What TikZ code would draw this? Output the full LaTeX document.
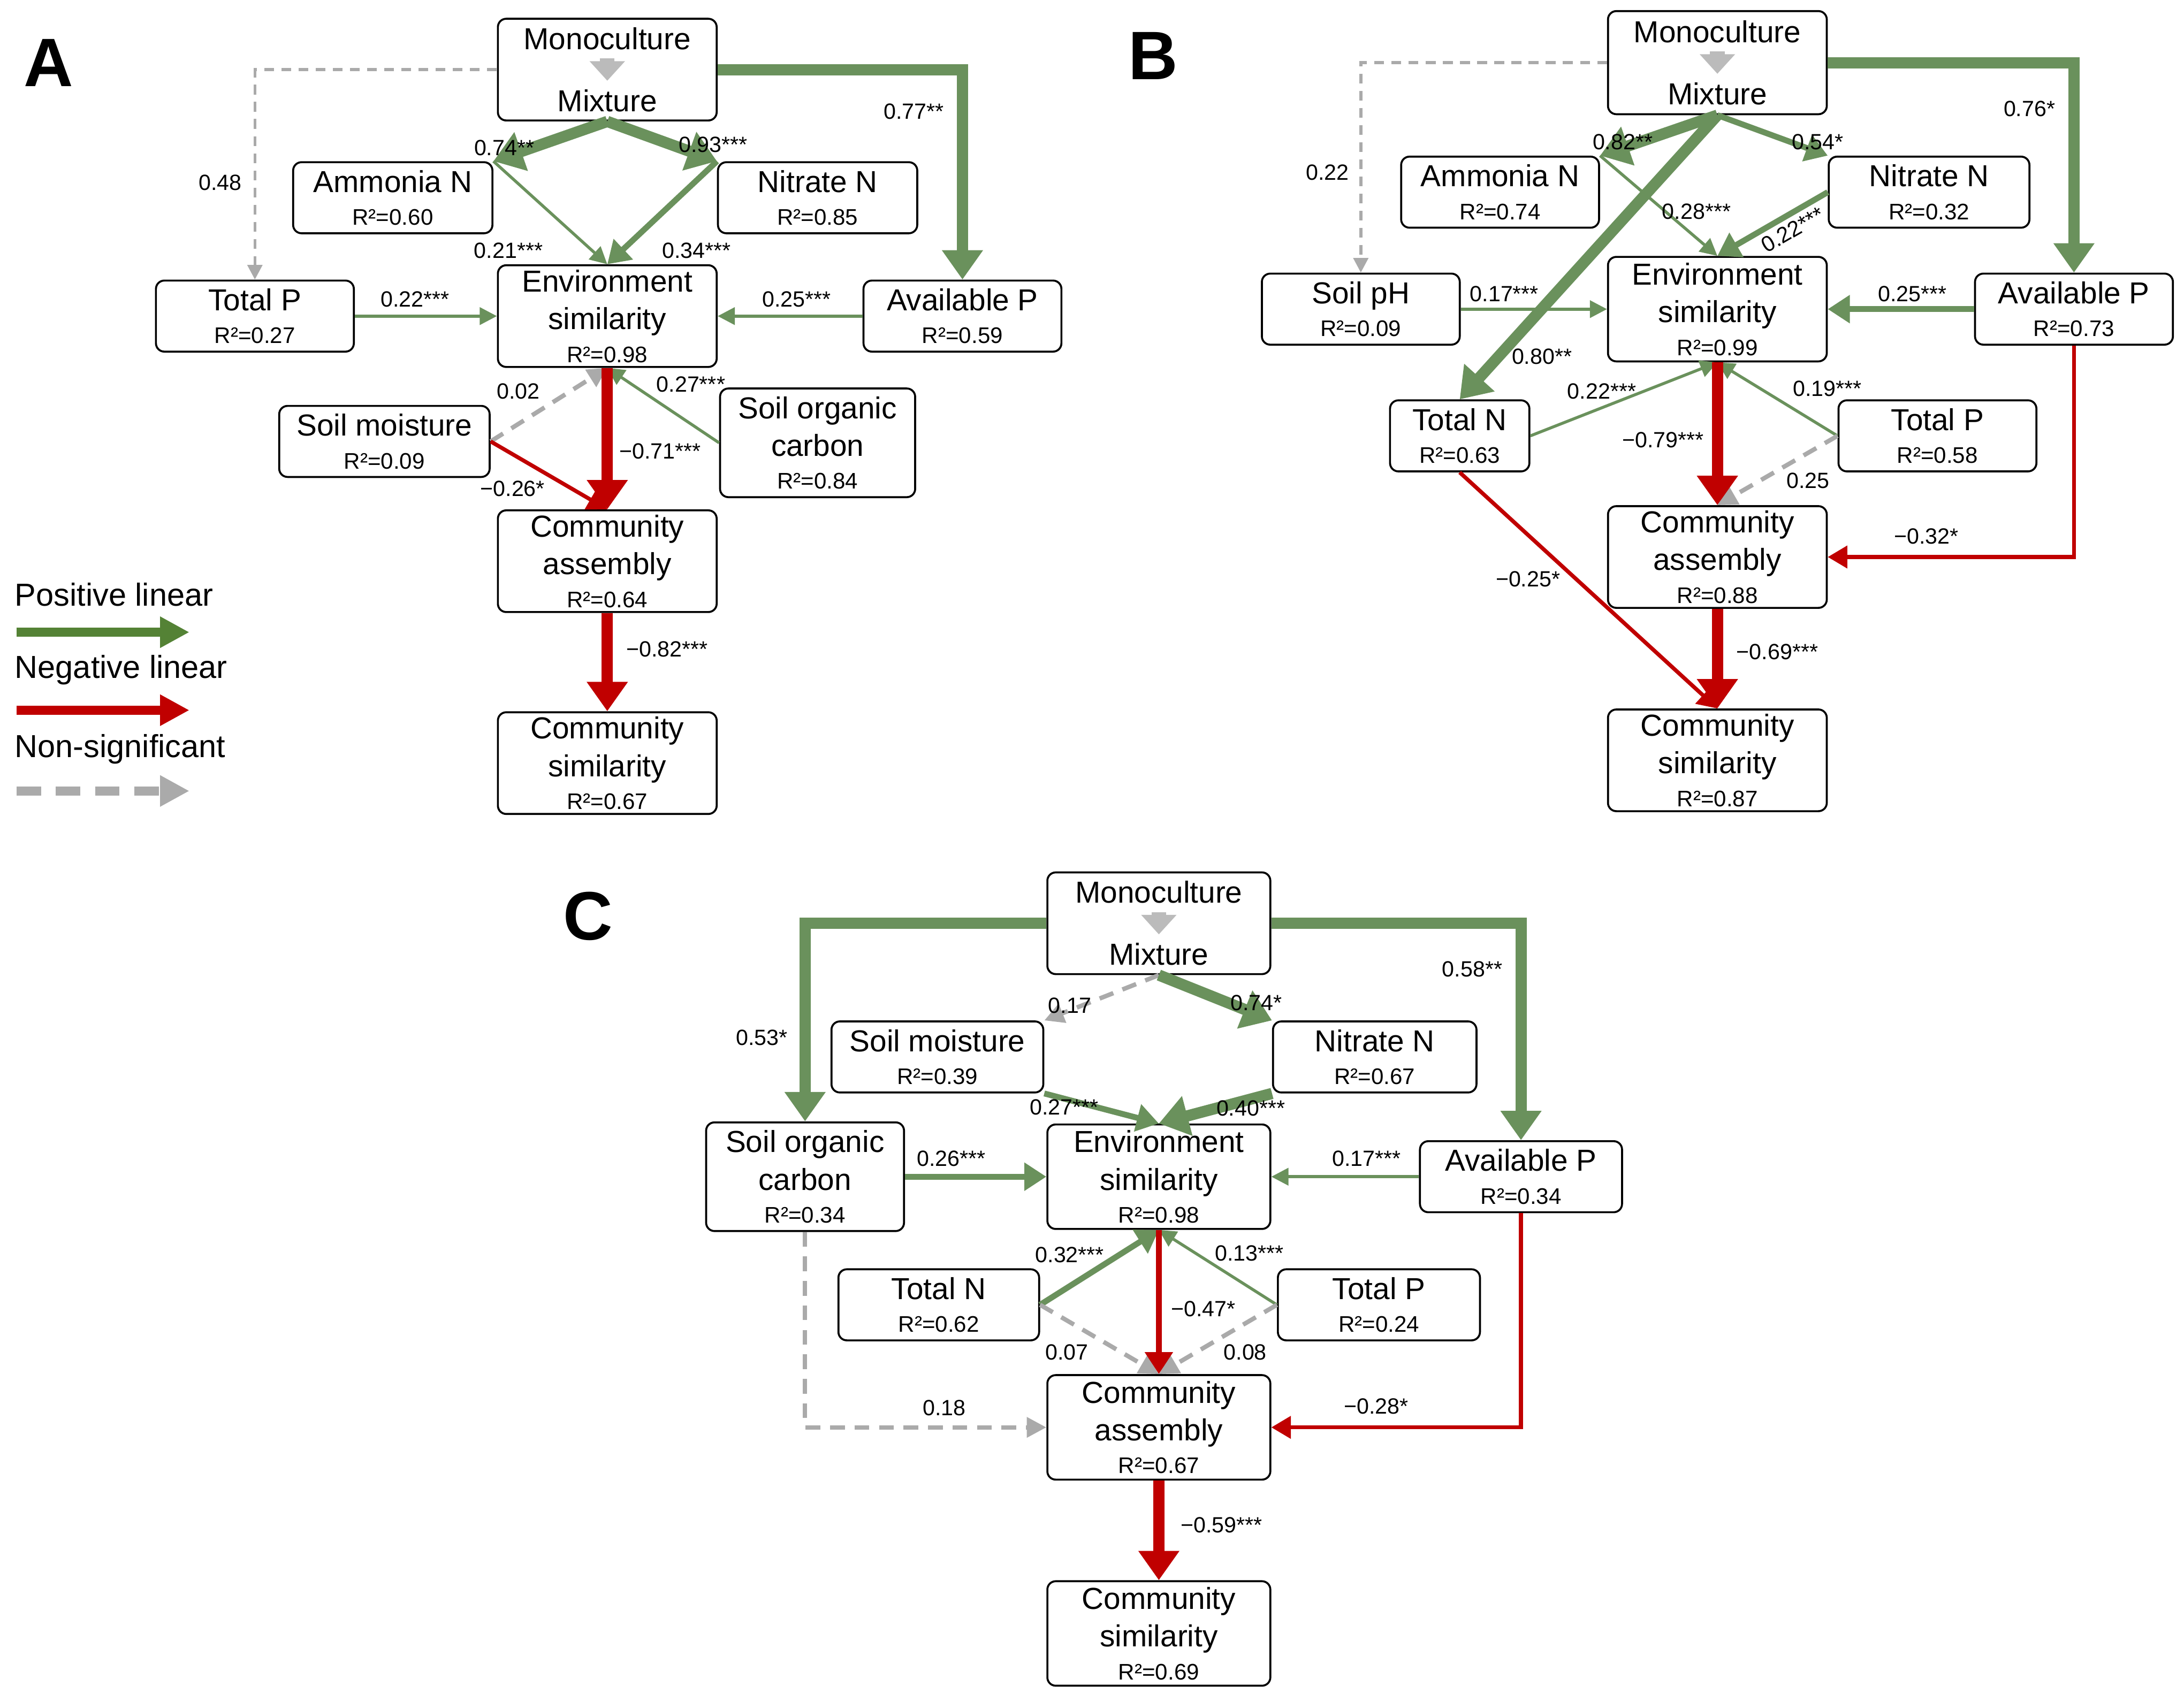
\documentclass[tikz,border=0pt]{standalone}
\usepackage{fontspec}
\setmainfont{Liberation Sans}
\usetikzlibrary{arrows.meta,calc}
\definecolor{gr}{RGB}{106,145,92}
\definecolor{lgr}{RGB}{84,130,53}
\definecolor{rd}{RGB}{192,0,0}
\definecolor{gy}{RGB}{170,170,170}
\tikzset{
 box/.style={draw,rounded corners=0.06cm,align=center,inner sep=0pt,font=\fontsize{6.2}{7.7}\selectfont},
 el/.style={font=\fontsize{4.5}{5}\selectfont,inner sep=1pt},
 Gk/.style={draw=gr,line width=2.3pt,-{Triangle[length=6pt,width=8pt]}},
 Gm/.style={draw=gr,line width=1.2pt,-{Triangle[length=4.5pt,width=5.5pt]}},
 Gt/.style={draw=gr,line width=0.6pt,-{Triangle[length=3.5pt,width=3.5pt]}},
 Rk/.style={draw=rd,line width=2.3pt,-{Triangle[length=6pt,width=8pt]}},
 Rm/.style={draw=rd,line width=1.2pt,-{Triangle[length=4.5pt,width=5.5pt]}},
 Rt/.style={draw=rd,line width=0.8pt,-{Triangle[length=4pt,width=4.5pt]}},
 Ns/.style={draw=gy,line width=0.9pt,dashed,dash pattern=on 3pt off 2pt,-{Triangle[length=4pt,width=4pt]}},
 Nt/.style={draw=gy,line width=0.6pt,dashed,dash pattern=on 2pt off 1.5pt,-{Triangle[length=3pt,width=3pt]}},
 mix/.style={draw=gy!80,line width=3pt,-{Triangle[length=4pt,width=7pt]}},
 lett/.style={font=\fontsize{14}{16}\bfseries\selectfont},
 leg/.style={font=\fontsize{6.5}{8}\selectfont,anchor=west,inner sep=0pt}
}
\newcommand\rr[1]{\\[-1pt]{\fontsize{4.6}{5}\selectfont R²=#1}}
\newcommand\bx[6]{\node[box,minimum width=#4cm,minimum height=#5cm] (#1) at (#2,#3) {#6};}
\begin{document}
\begin{tikzpicture}[x=0.01cm,y=-0.01cm]
\useasboundingbox (0,0) rectangle (1568,1222);
% ---------- A
\node[lett] (LA) at (35,45) {A};
\bx{MonoA}{436}{50}{1.57}{0.73}{Monoculture\\[5pt]Mixture}
\bx{AmmA}{282}{142}{1.43}{0.51}{Ammonia N\rr{0.60}}
\bx{NitA}{587}{142}{1.43}{0.51}{Nitrate N\rr{0.85}}
\bx{TotPA}{183}{227}{1.42}{0.51}{Total P\rr{0.27}}
\bx{EnvA}{436}{227}{1.57}{0.73}{Environment\\similarity\rr{0.98}}
\bx{AvPA}{691}{227}{1.42}{0.51}{Available P\rr{0.59}}
\bx{SMA}{276}{317}{1.51}{0.51}{Soil moisture\rr{0.09}}
\bx{SOCA}{587}{318}{1.40}{0.78}{Soil organic\\carbon\rr{0.84}}
\bx{CAA}{436}{403}{1.57}{0.73}{Community\\assembly\rr{0.64}}
\bx{CSA}{436}{548}{1.57}{0.73}{Community\\similarity\rr{0.67}}
\draw[mix] ($(MonoA.center)+(0,-8)$) -- ($(MonoA.center)+(0,8)$);
\draw[Nt] (MonoA.west) -| (TotPA.north);
\draw[Gk] (MonoA.east) -| (AvPA.north);
\draw[Gk] (MonoA.south) -- (AmmA.north east);
\draw[Gk] (MonoA.south) -- (NitA.north west);
\draw[Gt] (AmmA.north east) -- (EnvA.north);
\draw[Gm] (NitA.north west) -- (EnvA.north);
\draw[Gt] (TotPA) -- (EnvA);
\draw[Gt] (AvPA) -- (EnvA);
\draw[Ns] (SMA.east) -- (EnvA.south);
\draw[Gt] (SOCA.west) -- (EnvA.south);
\draw[Rt] (SMA.east) -- (CAA.north);
\draw[Rk] (EnvA) -- (CAA);
\draw[Rk] (CAA) -- (CSA);
\node[el] at (158,131) {0.48};
\node[el] at (656,80) {0.77**};
\node[el] at (362,106) {0.74**};
\node[el] at (512,104) {0.93***};
\node[el] at (365,180) {0.21***};
\node[el] at (500,180) {0.34***};
\node[el] at (298,215) {0.22***};
\node[el] at (572,215) {0.25***};
\node[el] at (372,281) {0.02};
\node[el] at (496,276) {0.27***};
\node[el] at (368,351) {−0.26*};
\node[el] at (474,324) {−0.71***};
\node[el] at (479,466) {−0.82***};
% legend
\node[leg] (L1) at (10,427) {Positive linear};
\coordinate (p1) at (12,454); \coordinate (p2) at (136,454);
\draw[draw=lgr,line width=1.8pt,-{Triangle[length=6pt,width=6pt]}] (p1) -- (p2);
\node[leg] (L2) at (10,481) {Negative linear};
\coordinate (n1) at (12,510); \coordinate (n2) at (136,510);
\draw[draw=rd,line width=1.8pt,-{Triangle[length=6pt,width=6pt]}] (n1) -- (n2);
\node[leg] (L3) at (10,538) {Non-significant};
\coordinate (s1) at (12,568); \coordinate (s2) at (136,568);
\draw[draw=gy,line width=1.8pt,dash pattern=on 5pt off 3pt,-{Triangle[length=6pt,width=6pt]}] (s1) -- (s2);
% ---------- B
\node[lett] (LB) at (828,40) {B};
\bx{MonoB}{1233}{45}{1.57}{0.74}{Monoculture\\[5pt]Mixture}
\bx{AmmB}{1077}{138}{1.42}{0.51}{Ammonia N\rr{0.74}}
\bx{NitB}{1385}{138}{1.44}{0.51}{Nitrate N\rr{0.32}}
\bx{pHB}{977}{222}{1.42}{0.51}{Soil pH\rr{0.09}}
\bx{EnvB}{1233}{222}{1.57}{0.75}{Environment\\similarity\rr{0.99}}
\bx{AvPB}{1489}{222}{1.42}{0.51}{Available P\rr{0.73}}
\bx{TotNB}{1048}{313}{1.00}{0.51}{Total N\rr{0.63}}
\bx{TotPB}{1391}{313}{1.42}{0.51}{Total P\rr{0.58}}
\bx{CAB}{1233}{400}{1.57}{0.73}{Community\\assembly\rr{0.88}}
\bx{CSB}{1233}{546}{1.57}{0.73}{Community\\similarity\rr{0.87}}
\draw[mix] ($(MonoB.center)+(0,-8)$) -- ($(MonoB.center)+(0,8)$);
\draw[Nt] (MonoB.west) -| (pHB.north);
\draw[Gk] (MonoB.east) -| (AvPB.north);
\draw[Gk] (MonoB.south) -- (AmmB.north east);
\draw[Gm] (MonoB.south) -- (NitB.north west);
\draw[Gk] (MonoB.south) -- (TotNB.north);
\draw[Gt] (AmmB.north east) -- (EnvB.north);
\draw[Gm] (NitB.west) -- (EnvB.north);
\draw[Gt] (pHB) -- (EnvB);
\draw[Gm] (AvPB) -- (EnvB);
\draw[Gt] (TotNB.east) -- (EnvB.south);
\draw[Gt] (TotPB.west) -- (EnvB.south);
\draw[Ns] (TotPB.west) -- (CAB.north);
\draw[Rk] (EnvB) -- (CAB);
\draw[Rt] (TotNB.south) -- (CSB.north);
\draw[Rt] (AvPB.south) |- (CAB.east);
\draw[Rk] (CAB) -- (CSB);
\node[el] at (953,124) {0.22};
\node[el] at (1457,78) {0.76*};
\node[el] at (1165,102) {0.82**};
\node[el] at (1305,102) {0.54*};
\node[el] at (1107,256) {0.80**};
\node[el] at (1218,152) {0.28***};
\node[el,rotate=30] at (1287,165) {0.22***};
\node[el] at (1080,211) {0.17***};
\node[el] at (1373,211) {0.25***};
\node[el] at (1150,281) {0.22***};
\node[el] at (1312,279) {0.19***};
\node[el] at (1298,345) {0.25};
\node[el] at (1194,316) {−0.79***};
\node[el] at (1097,416) {−0.25*};
\node[el] at (1383,385) {−0.32*};
\node[el] at (1276,468) {−0.69***};
% ---------- C
\node[lett] (LC) at (422,658) {C};
\bx{MonoC}{832}{663}{1.60}{0.73}{Monoculture\\[5pt]Mixture}
\bx{SMC}{673}{759}{1.52}{0.51}{Soil moisture\rr{0.39}}
\bx{NitC}{987}{759}{1.46}{0.51}{Nitrate N\rr{0.67}}
\bx{SOCC}{578}{845}{1.42}{0.78}{Soil organic\\carbon\rr{0.34}}
\bx{EnvC}{832}{845}{1.60}{0.75}{Environment\\similarity\rr{0.98}}
\bx{AvPC}{1092}{845}{1.45}{0.51}{Available P\rr{0.34}}
\bx{TotNC}{674}{937}{1.44}{0.51}{Total N\rr{0.62}}
\bx{TotPC}{990}{937}{1.45}{0.51}{Total P\rr{0.24}}
\bx{CAC}{832}{1025}{1.60}{0.75}{Community\\assembly\rr{0.67}}
\bx{CSC}{832}{1173}{1.60}{0.75}{Community\\similarity\rr{0.69}}
\draw[mix] ($(MonoC.center)+(0,-8)$) -- ($(MonoC.center)+(0,8)$);
\draw[Gk] (MonoC.west) -| (SOCC.north);
\draw[Gk] (MonoC.east) -| (AvPC.north);
\draw[Ns] (MonoC.south) -- (SMC.north east);
\draw[Gk] (MonoC.south) -- (NitC.north west);
\draw[Gm] (SMC.south east) -- (EnvC.north);
\draw[Gk] (NitC.south west) -- (EnvC.north);
\draw[Gm] (SOCC) -- (EnvC);
\draw[Gt] (AvPC) -- (EnvC);
\draw[Gm] (TotNC.east) -- (EnvC.south);
\draw[Gt] (TotPC.west) -- (EnvC.south);
\draw[Ns] (TotNC.east) -- (CAC.north);
\draw[Ns] (TotPC.west) -- (CAC.north);
\draw[Rm] (EnvC) -- (CAC);
\draw[Ns] (SOCC.south) |- (CAC.west);
\draw[Rt] (AvPC.south) |- (CAC.east);
\draw[Rk] (CAC) -- (CSC);
\node[el] at (547,745) {0.53*};
\node[el] at (1057,696) {0.58**};
\node[el] at (768,722) {0.17};
\node[el] at (902,720) {0.74*};
\node[el] at (764,795) {0.27***};
\node[el] at (898,796) {0.40***};
\node[el] at (683,832) {0.26***};
\node[el] at (981,832) {0.17***};
\node[el] at (768,901) {0.32***};
\node[el] at (897,900) {0.13***};
\node[el] at (766,971) {0.07};
\node[el] at (894,971) {0.08};
\node[el] at (864,940) {−0.47*};
\node[el] at (678,1011) {0.18};
\node[el] at (988,1010) {−0.28*};
\node[el] at (877,1095) {−0.59***};
\end{tikzpicture}
\end{document}
